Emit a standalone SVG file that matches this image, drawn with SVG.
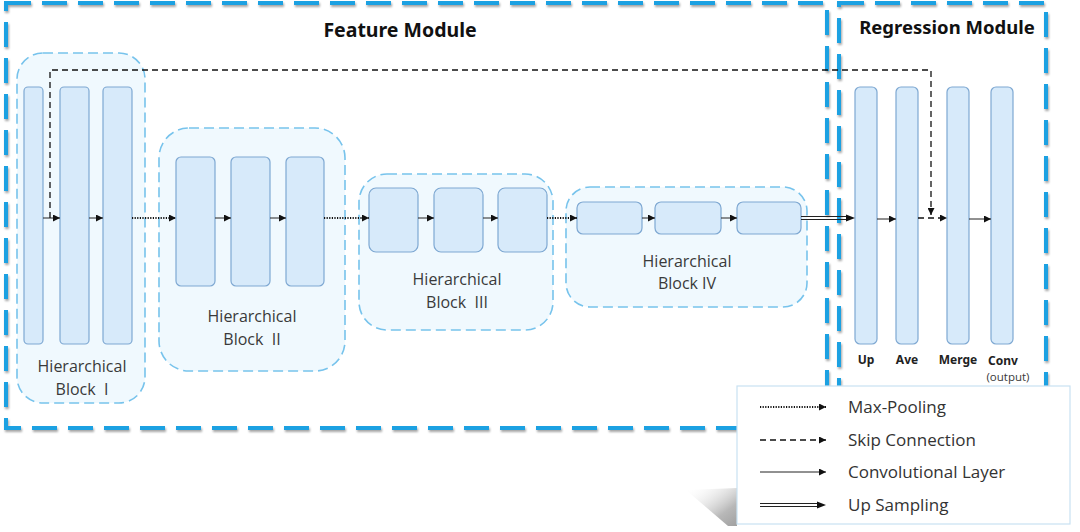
<svg xmlns="http://www.w3.org/2000/svg" width="1080" height="532" viewBox="0 0 1080 532">
<defs>
<marker id="ah" viewBox="0 0 10 10" refX="10" refY="5" markerWidth="9" markerHeight="7" markerUnits="userSpaceOnUse" orient="auto"><path d="M0,0 L10,5 L0,10 z" fill="#111"/></marker>
<filter id="sh" x="-5%" y="-5%" width="110%" height="110%"><feDropShadow dx="1" dy="2" stdDeviation="1.2" flood-color="#000" flood-opacity="0.35"/></filter>
<linearGradient id="shg" x1="0" y1="0" x2="1" y2="1"><stop offset="0" stop-color="#fff" stop-opacity="0"/><stop offset="0.7" stop-color="#b8b8b8"/><stop offset="1" stop-color="#a0a0a0"/></linearGradient>
<style>
.mod{fill:none;stroke:#1ba1e2;stroke-width:4;stroke-dasharray:25 11}
.blk{fill:#f0f9fe;stroke:#77c3ec;stroke-width:1.6;stroke-dasharray:10 5}
.bar{fill:#d7eafa;stroke:#7ea8d2;stroke-width:1.2}
.conv{stroke:#222;stroke-width:1;fill:none;marker-end:url(#ah)}
.pool{stroke:#111;stroke-width:2;stroke-dasharray:1.2 1.4;fill:none;marker-end:url(#ah)}
.skip{stroke:#111;stroke-width:1.3;stroke-dasharray:6 4;fill:none;marker-end:url(#ah)}
.dbl{stroke:#222;stroke-width:1;fill:none}
.t{font-family:"Open Sans","Noto Sans",sans-serif;fill:#3a3a3a;font-size:16px;text-anchor:middle;white-space:pre}
.title{font-family:"Noto Sans","Open Sans",sans-serif;fill:#111;font-size:19.5px;font-weight:bold;text-anchor:middle}
.lab{font-family:"Noto Sans","Open Sans",sans-serif;fill:#222;font-size:12px;font-weight:bold;text-anchor:middle}
.leg{font-family:"Open Sans","Noto Sans",sans-serif;fill:#333;font-size:17px}
</style>
</defs>
<rect width="1080" height="532" fill="#fff"/>

<g id="feature-module">
<rect class="mod" x="6" y="3" width="821" height="425" filter="url(#sh)"/>
<text class="title" x="400" y="37">Feature Module</text>
</g>
<g id="regression-module">
<rect class="mod" x="839" y="3" width="207" height="425" filter="url(#sh)"/>
<text class="title" x="947" y="34" style="font-size:18.5px">Regression Module</text>
</g>

<g id="block1">
<rect class="blk" x="17" y="53" width="128" height="350" rx="26"/>
<rect class="bar" x="24" y="87" width="19" height="257" rx="4"/>
<rect class="bar" x="60" y="87" width="29" height="257" rx="4"/>
<rect class="bar" x="103" y="87" width="29" height="257" rx="4"/>
<text class="t" x="82" y="372">Hierarchical</text>
<text class="t" x="82" y="395" xml:space="preserve">Block  I</text>
</g>
<g id="block2">
<rect class="blk" x="159" y="128" width="186" height="243" rx="30"/>
<rect class="bar" x="176" y="157" width="39" height="129" rx="5"/>
<rect class="bar" x="231" y="157" width="39" height="129" rx="5"/>
<rect class="bar" x="286" y="157" width="38" height="129" rx="5"/>
<text class="t" x="252" y="322">Hierarchical</text>
<text class="t" x="252" y="345" xml:space="preserve">Block  II</text>
</g>
<g id="block3">
<rect class="blk" x="359" y="174" width="194" height="156" rx="28"/>
<rect class="bar" x="369" y="188" width="49" height="64" rx="7"/>
<rect class="bar" x="434" y="188" width="49" height="64" rx="7"/>
<rect class="bar" x="498" y="188" width="49" height="64" rx="7"/>
<text class="t" x="457" y="285">Hierarchical</text>
<text class="t" x="457" y="308" xml:space="preserve">Block  III</text>
</g>
<g id="block4">
<rect class="blk" x="566" y="187" width="241" height="120" rx="24"/>
<rect class="bar" x="577" y="202" width="65" height="32" rx="6"/>
<rect class="bar" x="655" y="202" width="66" height="32" rx="6"/>
<rect class="bar" x="737" y="202" width="64" height="32" rx="6"/>
<text class="t" x="687" y="267">Hierarchical</text>
<text class="t" x="687" y="289">Block IV</text>
</g>

<g id="up"><rect class="bar" x="855" y="87" width="22" height="257" rx="5"/><text class="lab" x="866" y="364">Up</text></g>
<g id="ave"><rect class="bar" x="896" y="87" width="22" height="257" rx="5"/><text class="lab" x="907" y="364">Ave</text></g>
<g id="merge"><rect class="bar" x="947" y="87" width="22" height="257" rx="5"/><text class="lab" x="958" y="364">Merge</text></g>
<g id="conv"><rect class="bar" x="991" y="87" width="22" height="257" rx="5"/><text class="lab" x="1003" y="365">Conv</text><text class="t" x="1008" y="381" style="font-size:11.5px">(output)</text></g>

<g id="connectors">
<line class="conv" x1="43" y1="218" x2="60" y2="218"/>
<line class="conv" x1="89" y1="218" x2="103" y2="218"/>
<line class="pool" x1="132" y1="218" x2="176" y2="218"/>
<line class="conv" x1="215" y1="218" x2="231" y2="218"/>
<line class="conv" x1="270" y1="218" x2="286" y2="218"/>
<line class="pool" x1="324" y1="218" x2="369" y2="218"/>
<line class="conv" x1="418" y1="218" x2="434" y2="218"/>
<line class="conv" x1="483" y1="218" x2="498" y2="218"/>
<line class="pool" x1="547" y1="218" x2="577" y2="218"/>
<line class="conv" x1="642" y1="218" x2="655" y2="218"/>
<line class="conv" x1="721" y1="218" x2="737" y2="218"/>
<line class="dbl" x1="801" y1="216.5" x2="850" y2="216.5"/>
<line class="dbl" x1="801" y1="219.5" x2="850" y2="219.5"/>
<path d="M846,214.5 L855,218 L846,221.5 z" fill="#111"/>
<line class="conv" x1="877" y1="219" x2="896" y2="219"/>
<line class="skip" x1="918" y1="218" x2="947" y2="218"/>
<line class="conv" x1="969" y1="219" x2="991" y2="219"/>
<path class="skip" d="M50,218 L50,70 L931,70 L931,215"/>
</g>

<g id="legend">
<polygon points="686,490 737,488 737,526 728,526" fill="url(#shg)"/>
<rect x="737" y="386" width="333" height="138" fill="#fff" stroke="#c9e2f2" stroke-width="1.2"/>
<line class="pool" x1="760" y1="407" x2="826" y2="407"/>
<line class="skip" x1="760" y1="440" x2="826" y2="440"/>
<line class="conv" x1="760" y1="472" x2="826" y2="472"/>
<line class="dbl" x1="760" y1="503.5" x2="821" y2="503.5"/>
<line class="dbl" x1="760" y1="506.5" x2="821" y2="506.5"/>
<path d="M817,501.5 L826,505 L817,508.5 z" fill="#111"/>
<text class="leg" x="848" y="413">Max-Pooling</text>
<text class="leg" x="848" y="446">Skip Connection</text>
<text class="leg" x="848" y="478">Convolutional Layer</text>
<text class="leg" x="848" y="511">Up Sampling</text>
</g>
</svg>
